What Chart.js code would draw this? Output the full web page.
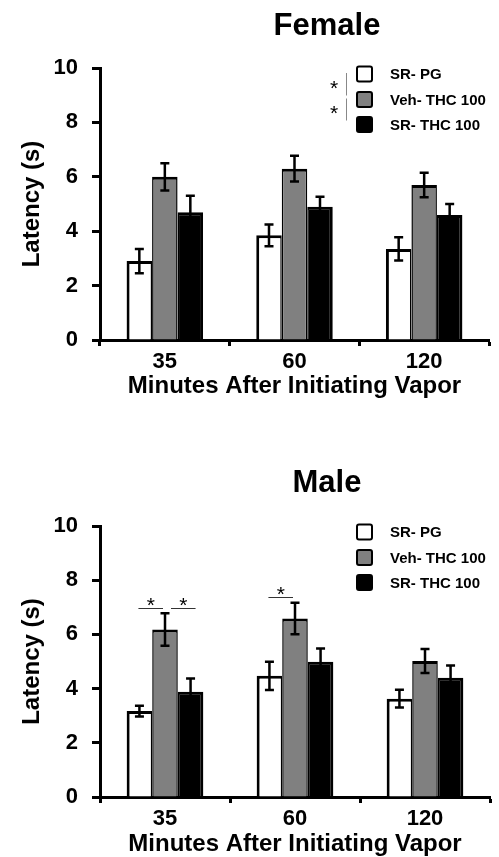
<!DOCTYPE html>
<html>
<head>
<meta charset="utf-8">
<script src="https://cdn.jsdelivr.net/npm/chart.js@4.4.1/dist/chart.umd.min.js"></script>
<style>
  body { margin: 0; background: #fff; }
  #female { position: absolute; left: 0; top: 0; }
  #male { position: absolute; left: 0; top: 450px; }
</style>
</head>
<body>
<canvas id="female" width="499" height="410"></canvas>
<canvas id="male" width="499" height="407"></canvas>
<script>
var categories = ['35', '60', '120'];
var groupNames = ['SR- PG', 'Veh- THC 100', 'SR- THC 100'];

// female, mean and sem
var femaleSrPg = [2.9, 3.85, 3.35];
var femaleSrPgErr = [0.45, 0.4, 0.43];
var femaleVehThc = [6.0, 6.3, 5.7];
var femaleVehThcErr = [0.5, 0.47, 0.45];
var femaleSrThc = [4.7, 4.9, 4.6];
var femaleSrThcErr = [0.6, 0.37, 0.4];

// male, mean and sem
var maleSrPg = [3.17, 4.47, 3.63];
var maleSrPgErr = [0.2, 0.52, 0.33];
var maleVehThc = [6.18, 6.59, 5.02];
var maleVehThcErr = [0.6, 0.58, 0.44];
var maleSrThc = [3.88, 4.99, 4.4];
var maleSrThcErr = [0.49, 0.49, 0.45];

// significance bars: [category, from group, to group, height]
var maleSig = [[0, 0, 1, 6.97], [0, 1, 2, 6.97], [1, 0, 1, 7.39]];

var fills = ['#ffffff', '#808080', '#000000'];
// shared edges between neighbouring bars get half width on each side
var borders = [
    { top: 3, left: 3, right: 1.5, bottom: 0 },
    { top: 3, left: 1.5, right: 1.5, bottom: 0 },
    { top: 3, left: 1.5, right: 3, bottom: 0 }
];
var font = 'Liberation Sans, Arial, sans-serif';

var extras = {
    id: 'extras',
    afterDatasetsDraw: function(chart) {
        var ctx = chart.ctx, y = chart.scales.y;
        ctx.save();
        ctx.strokeStyle = '#000';
        ctx.lineWidth = 2.5;
        chart.data.datasets.forEach(function(ds, i) {
            chart.getDatasetMeta(i).data.forEach(function(bar, j) {
                var top = y.getPixelForValue(ds.data[j] + ds.errors[j]);
                var bot = y.getPixelForValue(ds.data[j] - ds.errors[j]);
                ctx.beginPath();
                ctx.moveTo(bar.x, top); ctx.lineTo(bar.x, bot);
                ctx.moveTo(bar.x - 4.5, top); ctx.lineTo(bar.x + 4.5, top);
                ctx.moveTo(bar.x - 4.5, bot); ctx.lineTo(bar.x + 4.5, bot);
                ctx.stroke();
            });
        });
        ctx.restore();
    },
    afterDraw: function(chart, args, opts) {
        var ctx = chart.ctx, area = chart.chartArea, y = chart.scales.y;
        ctx.save();
        // title
        ctx.fillStyle = '#000';
        ctx.font = 'bold 31px ' + font;
        ctx.textAlign = 'center';
        ctx.textBaseline = 'alphabetic';
        ctx.fillText(opts.title, 327, opts.titleY);

        // legend
        var rows = [6, 31.5, 56.5];
        chart.data.datasets.forEach(function(ds, i) {
            var cy = area.top + rows[i];
            ctx.beginPath();
            ctx.roundRect(357, cy - 7.5, 15, 15, 2);
            ctx.fillStyle = ds.backgroundColor;
            ctx.fill();
            ctx.lineWidth = 2;
            ctx.strokeStyle = '#000';
            ctx.stroke();
            ctx.fillStyle = '#000';
            ctx.font = 'bold 15px ' + font;
            ctx.textAlign = 'left';
            ctx.textBaseline = 'middle';
            ctx.fillText(ds.label, 390, cy + 1);
        });

        ctx.font = '21px ' + font;
        ctx.textAlign = 'center';
        ctx.textBaseline = 'middle';
        // significance next to legend
        if (opts.legendSig) {
            ctx.strokeStyle = '#888';
            ctx.lineWidth = 1;
            for (var k = 0; k < 2; k++) {
                var y1 = area.top + rows[k] - 1, y2 = area.top + rows[k + 1] - 4;
                ctx.beginPath();
                ctx.moveTo(346.5, y1); ctx.lineTo(346.5, y2);
                ctx.stroke();
                ctx.fillStyle = '#000';
                ctx.fillText('*', 334, (y1 + y2) / 2 + 5);
            }
        }
        // significance between bars
        (opts.sig || []).forEach(function(s) {
            var a = chart.getDatasetMeta(s[1]).data[s[0]];
            var b = chart.getDatasetMeta(s[2]).data[s[0]];
            var x1 = a.x - 1, x2 = b.x - 2;
            if (s[1] == 1) { x1 += 7; x2 += 7; }
            var py = Math.round(y.getPixelForValue(s[3])) + 0.5;
            ctx.strokeStyle = '#333';
            ctx.lineWidth = 1;
            ctx.beginPath();
            ctx.moveTo(x1, py); ctx.lineTo(x2, py);
            ctx.stroke();
            ctx.fillStyle = '#000';
            ctx.fillText('*', (x1 + x2) / 2, py - 2);
        });
        ctx.restore();
    }
};

function makeChart(id, series, errors, opts) {
    return new Chart(document.getElementById(id), {
        type: 'bar',
        data: {
            labels: categories,
            datasets: series.map(function(d, i) {
                return {
                    label: groupNames[i],
                    data: d,
                    errors: errors[i],
                    backgroundColor: fills[i],
                    borderColor: '#000',
                    borderWidth: borders[i],
                    borderSkipped: 'bottom',
                    categoryPercentage: 0.59,
                    barPercentage: 1.0
                };
            })
        },
        options: {
            responsive: false,
            devicePixelRatio: 1,
            animation: false,
            layout: {
                padding: { top: opts.padTop, right: opts.padRight, left: 0, bottom: 0 }
            },
            plugins: {
                legend: { display: false },
                title: { display: false },
                tooltip: { enabled: false },
                extras: { title: opts.title, titleY: opts.titleY, sig: opts.sig, legendSig: opts.legendSig }
            },
            scales: {
                x: {
                    afterFit: function(s) { s.height = opts.xHeight; },
                    grid: { display: true, offset: true, drawOnChartArea: false, drawTicks: true,
                            tickLength: 6, tickWidth: 3, tickColor: '#000' },
                    border: { display: true, color: '#000', width: 3 },
                    ticks: { color: '#000', padding: 3, font: { family: font, size: 22, weight: 'bold' } },
                    title: { display: true, text: 'Minutes After Initiating Vapor', color: '#000',
                             font: { family: font, size: 24, weight: 'bold', lineHeight: 1 },
                             padding: { top: 0, bottom: opts.xTitlePad } }
                },
                y: {
                    min: 0,
                    max: 10,
                    afterFit: function(s) { s.width = 100; },
                    grid: { display: true, drawOnChartArea: false, drawTicks: true,
                            tickLength: 8, tickWidth: 3, tickColor: '#000' },
                    border: { display: true, color: '#000', width: 3 },
                    ticks: { stepSize: 2, color: '#000', padding: 14, font: { family: font, size: 22, weight: 'bold' } },
                    title: { display: true, text: 'Latency (s)', color: '#000',
                             font: { family: font, size: 24, weight: 'bold', lineHeight: 1 },
                             padding: { top: 20, bottom: 0 } }
                }
            }
        },
        plugins: [extras]
    });
}

makeChart('female',
    [femaleSrPg, femaleVehThc, femaleSrThc],
    [femaleSrPgErr, femaleVehThcErr, femaleSrThcErr],
    { title: 'Female', titleY: 35, padTop: 68, padRight: 10, xHeight: 70, xTitlePad: 11.5, legendSig: true, sig: [] });

makeChart('male',
    [maleSrPg, maleVehThc, maleSrThc],
    [maleSrPgErr, maleVehThcErr, maleSrThcErr],
    { title: 'Male', titleY: 42, padTop: 76, padRight: 9, xHeight: 60, xTitlePad: 0.5, legendSig: false, sig: maleSig });
</script>
</body>
</html>
